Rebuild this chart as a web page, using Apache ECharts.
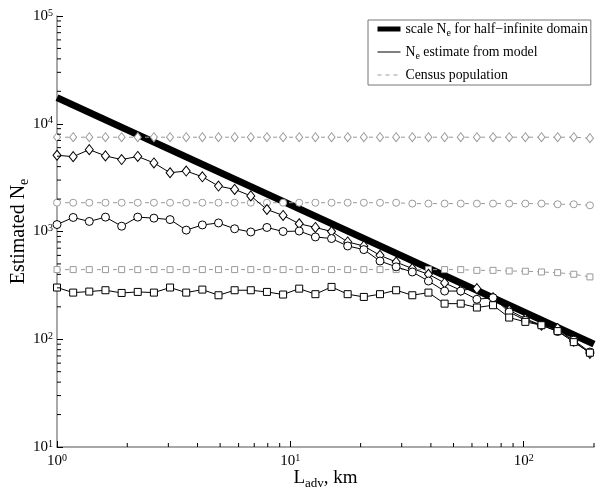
<!DOCTYPE html>
<html>
<head>
<meta charset="utf-8">
<script src="https://cdn.jsdelivr.net/npm/echarts@6/dist/echarts.min.js"></script>
<style>html,body{margin:0;padding:0;background:#fff}#c{width:600px;height:493px}</style>
</head>
<body>
<div id="c"></div>
<script>
// x positions (L_adv, km)
const xs = [1.00,1.173,1.375,1.613,1.892,2.218,2.602,3.051,3.578,4.196,4.920,5.770,6.767,7.935,9.307,10.91,12.80,15.01,17.60,20.64,24.21,28.39,33.30,39.05,45.80,53.70,62.98,73.86,86.61,101.6,119.1,139.7,163.8,192.1];
// model estimates
const modelDiamond = [5100,4950,5750,5030,4650,4970,4330,3510,3640,3220,2640,2460,2140,1600,1410,1180,1090,1000,800,734,601,520,453,401,333,285,295,243,186,155,135,126,96,74];
const modelCircle  = [1160,1350,1240,1360,1120,1360,1330,1290,1030,1150,1200,1060,990,1090,1000,1010,890,860,734,679,532,470,421,347,280,280,235,243,179,150,135,118,98,76];
const modelSquare  = [302,271,277,285,269,275,271,302,271,289,256,285,285,275,260,295,262,306,262,247,262,285,256,271,214,214,197,207,159,145,135,119,94,75];
// census populations
const censusDiamond = [7500,7500,7500,7500,7500,7500,7500,7500,7500,7500,7500,7500,7500,7500,7500,7500,7500,7500,7500,7500,7500,7500,7500,7500,7500,7500,7500,7500,7500,7500,7500,7500,7500,7350];
const censusCircle  = [1850,1850,1850,1850,1850,1850,1850,1850,1850,1850,1850,1850,1850,1850,1850,1850,1850,1850,1850,1850,1850,1850,1815,1815,1815,1815,1815,1815,1815,1815,1815,1790,1790,1750];
const censusSquare  = [443,443,443,443,443,443,443,443,443,443,443,443,443,443,443,443,443,443,443,443,443,443,443,443,443,443,436,436,430,428,421,415,401,379];
// half-infinite domain scale line (end points)
const scaleX = [1, 200];
const scaleY = [17500, 90];
// axis ticks
const xMinorTicks = [2,3,4,5,6,7,8,9,20,30,40,50,60,70,80,90,200];
const yMinorTicks = [20,30,40,50,60,70,80,90,200,300,400,500,600,700,800,900,2000,3000,4000,5000,6000,7000,8000,9000,20000,30000,40000,50000,60000,70000,80000,90000];

const FONT = 'Liberation Serif';
const zip = (a, b) => a.map((v, i) => [v, b[i]]);

function powLabel(v) {
  const e = Math.log10(v);
  const r = Math.round(e);
  if (Math.abs(e - r) > 1e-6) return '';
  return '{b|10}{e|' + r + '}';
}
const tickRich = {
  b: {fontFamily: FONT, fontSize: 15, color: '#000'},
  e: {fontFamily: FONT, fontSize: 10, color: '#000', verticalAlign: 'top', padding: [0, 0, 6, 0]}
};

const chart = echarts.init(document.getElementById('c'), null, {renderer: 'canvas'});

function modelSeries(name, data, symbol, size) {
  return {
    type: 'line', name: name, data: zip(xs, data), symbol: symbol, symbolSize: size,
    showSymbol: true, z: 4,
    lineStyle: {color: '#000', width: 1},
    itemStyle: {color: '#fff', borderColor: '#000', borderWidth: 1},
    emphasis: {disabled: true}, animation: false
  };
}
function censusSeries(name, data, symbol, size) {
  return {
    type: 'line', name: name, data: zip(xs, data), symbol: symbol, symbolSize: size,
    showSymbol: true, z: 3,
    lineStyle: {color: '#9a9a9a', width: 1, type: [4, 4]},
    itemStyle: {color: '#fff', borderColor: '#9a9a9a', borderWidth: 1},
    emphasis: {disabled: true}, animation: false
  };
}

const hidden = {opacity: 0, borderWidth: 0};

const option = {
  animation: false,
  grid: {left: 57, right: 6, top: 16, bottom: 46, containLabel: false, outerBoundsMode: 'none'},
  xAxis: {
    type: 'log', min: 1, max: 200, logBase: 10,
    name: '{t|L}{s|adv}{t|, km}', nameLocation: 'middle', nameGap: 20, nameMoveOverlap: false,
    nameTextStyle: {
      rich: {
        t: {fontFamily: FONT, fontSize: 19, color: '#000'},
        s: {fontFamily: FONT, fontSize: 13, color: '#000', verticalAlign: 'bottom', padding: [10, 0, 0, 0]}
      }
    },
    axisLine: {show: true, lineStyle: {color: '#8c8c8c', width: 1.5}},
    axisTick: {show: true, inside: true, length: 6, lineStyle: {color: '#000'}},
    axisLabel: {formatter: powLabel, rich: tickRich, margin: 6, showMaxLabel: false},
    splitLine: {show: false}
  },
  yAxis: {
    type: 'log', min: 10, max: 100000, logBase: 10,
    name: '{t|Estimated N}{s|e}', nameLocation: 'middle', nameGap: 26, nameRotate: 90, nameMoveOverlap: false,
    nameTextStyle: {
      rich: {
        t: {fontFamily: FONT, fontSize: 20, color: '#000'},
        s: {fontFamily: FONT, fontSize: 14, color: '#000', verticalAlign: 'bottom', padding: [10, 0, 0, 0]}
      }
    },
    axisLine: {show: true, lineStyle: {color: '#8c8c8c', width: 1.5}},
    axisTick: {show: true, inside: true, length: 6, lineStyle: {color: '#000'}},
    axisLabel: {formatter: powLabel, rich: tickRich, margin: 4},
    splitLine: {show: false}
  },
  legend: {
    show: true, orient: 'vertical', left: 368, top: 20,
    data: [
      {name: 'scale', itemStyle: hidden, lineStyle: {color: '#000', width: 5}},
      {name: 'model', itemStyle: hidden, lineStyle: {color: '#000', width: 1}},
      {name: 'census', itemStyle: hidden, lineStyle: {color: '#9a9a9a', width: 1, type: [4, 4]}}
    ],
    itemWidth: 23, itemHeight: 14, itemGap: 7,
    padding: [2, 3, 3, 7],
    borderColor: '#777', borderWidth: 1, backgroundColor: '#fff',
    selectedMode: false,
    formatter: function (n) {
      if (n === 'scale') return '{t|scale N}{s|e}{t| for half\u2212infinite domain}';
      if (n === 'model') return '{t|N}{s|e}{t| estimate from model}';
      return '{t|Census population}';
    },
    textStyle: {
      rich: {
        t: {fontFamily: FONT, fontSize: 13.8, color: '#000'},
        s: {fontFamily: FONT, fontSize: 10, color: '#000', verticalAlign: 'bottom', padding: [8, 0, 0, 0]}
      }
    }
  },
  series: [
    {type: 'line', name: 'scale', data: zip(scaleX, scaleY), symbol: 'none', z: 2,
     lineStyle: {color: '#000', width: 7}, itemStyle: {color: '#000'}, emphasis: {disabled: true}},
    censusSeries('cd', censusDiamond, 'diamond', [7, 9]),
    censusSeries('cc', censusCircle, 'circle', 7),
    censusSeries('cs', censusSquare, 'rect', 6),
    modelSeries('md', modelDiamond, 'diamond', [8, 10]),
    modelSeries('mc', modelCircle, 'circle', 8),
    modelSeries('ms', modelSquare, 'rect', 7),
    {type: 'line', name: 'model', data: [], symbol: 'none', itemStyle: {color: '#000'}, lineStyle: {color: '#000', width: 1}},
    {type: 'line', name: 'census', data: [], symbol: 'none', itemStyle: {color: '#9a9a9a'}, lineStyle: {color: '#9a9a9a', width: 1, type: [4, 4]}},
    {type: 'custom', name: 'xminor', silent: true, clip: false, z: 10,
     data: xMinorTicks.map(v => [v, 10]),
     renderItem: function (params, api) {
       const p = api.coord([api.value(0), api.value(1)]);
       return {type: 'line', shape: {x1: p[0], y1: p[1], x2: p[0], y2: p[1] - 4}, style: {stroke: '#000', lineWidth: 1}};
     }},
    {type: 'custom', name: 'yminor', silent: true, clip: false, z: 10,
     data: yMinorTicks.map(v => [1, v]),
     renderItem: function (params, api) {
       const p = api.coord([api.value(0), api.value(1)]);
       return {type: 'line', shape: {x1: p[0], y1: p[1], x2: p[0] + 4, y2: p[1]}, style: {stroke: '#000', lineWidth: 1}};
     }}
  ]
};
chart.setOption(option);
</script>
</body>
</html>
